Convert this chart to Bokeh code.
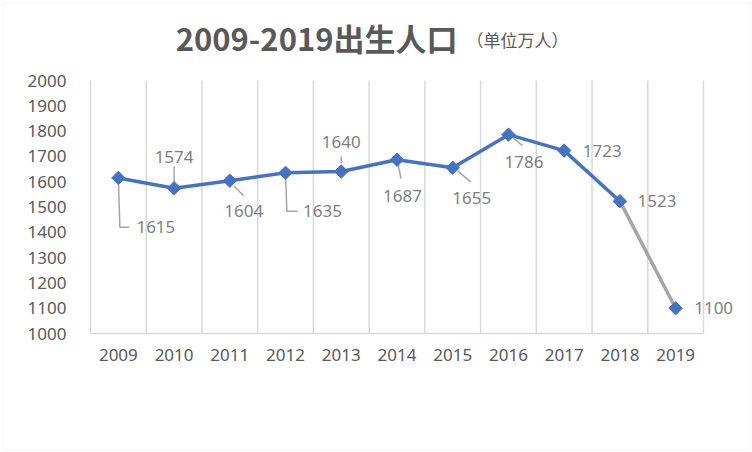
import numpy as np
from bokeh.plotting import figure
from bokeh.models import ColumnDataSource, LabelSet, Label, FixedTicker, Range1d, BoxAnnotation
from bokeh.core.properties import value
from bokeh.embed import file_html
from bokeh.resources import INLINE

# ---------------- data ----------------
years = [2009, 2010, 2011, 2012, 2013, 2014, 2015, 2016, 2017, 2018, 2019]
births = [1615, 1574, 1604, 1635, 1640, 1687, 1655, 1786, 1723, 1523, 1100]
year_labels = [str(y) for y in years]
y_ticks = [1000, 1100, 1200, 1300, 1400, 1500, 1600, 1700, 1800, 1900, 2000]
title_main = "2009-2019出生人口"
title_unit = "（单位万人）"

# ---------------- style / placement (pixels, right & down positive) ----------------
lab_dx = [37.5, 0, 14, 37, 0, 5.5, 19, 15.6, 38, 37, 38]
lab_dy = [49.3, -31, 30.5, 38.4, -29.3, 36, 30.4, 27.6, 0, 0, 0]
leaders = {
    2009: [(0, 0), (1.5, 49.3), (11, 49.3)],
    2010: [(0, -22), (0, -6)],
    2011: [(4, 5), (13.7, 15)],
    2012: [(0, 0), (1.3, 38.4), (12, 38.4)],
    2013: [(0, -15), (0, -8)],
    2014: [(1, 4), (4, 19)],
    2015: [(4.7, 2.7), (18, 14.4)],
    2016: [(4, 2.6), (14, 11)],
}

BLUE = "#4472C4"
GREY_LINE = "#A5A5A5"
GRID = "#D9D9D9"
TXT = "#595959"
LBL = "#7F7F7F"

W, H = 752, 452
PL, PT = 90, 80            # pixel position of the (2008.5, 2000) corner
DATA_W, DATA_H = 613, 253  # pixel size of the 2008.5-2019.5 x 1000-2000 area
X0, X1 = years[0] - 0.5, years[-1] + 0.5
Y0, Y1 = y_ticks[0], y_ticks[-1]
sx = DATA_W / (X1 - X0)
sy = DATA_H / (Y1 - Y0)


def px2x(px):
    return X0 + (px - PL) / sx


def py2y(py):
    return Y1 + (PT - py) / sy


p = figure(width=W, height=H, x_range=Range1d(px2x(0), px2x(W)), y_range=Range1d(py2y(H), py2y(0)),
           output_backend="svg", toolbar_location=None,
           min_border_left=0, min_border_right=0, min_border_top=0, min_border_bottom=0)
p.background_fill_color = "white"
p.border_fill_color = "white"
p.outline_line_color = None

# page frame (thin light border around the whole picture)
p.add_layout(BoxAnnotation(left=px2x(2.5), right=px2x(W - 2.5), top=py2y(2.5), bottom=py2y(H - 2.5),
                           fill_color=None, line_color=GRID, line_width=1))

# axes, fixed at the edges of the data area
p.xaxis.fixed_location = Y0
p.xaxis.ticker = FixedTicker(ticks=years)
p.xaxis.bounds = (X0, X1)
p.xaxis.major_label_overrides = {y: s for y, s in zip(years, year_labels)}
p.xaxis.axis_line_color = GRID
p.xaxis.axis_line_width = 1.5
p.xaxis.major_tick_line_color = None
p.xaxis.minor_tick_line_color = None
p.xaxis.major_label_text_font = "Noto Sans"
p.xaxis.major_label_text_font_size = "17px"
p.xaxis.major_label_text_color = TXT
p.xaxis.major_label_standoff = 9

p.yaxis.fixed_location = X0
p.yaxis.ticker = FixedTicker(ticks=y_ticks)
p.yaxis.bounds = (Y0, Y1)
p.yaxis.axis_line_color = None
p.yaxis.major_tick_line_color = None
p.yaxis.minor_tick_line_color = None
p.yaxis.major_label_text_font = "Noto Sans"
p.yaxis.major_label_text_font_size = "17px"
p.yaxis.major_label_text_color = TXT
p.yaxis.major_label_standoff = 18

p.xgrid.grid_line_color = None
p.ygrid.grid_line_color = None

# vertical category separators, from 1000 to 2000
sep = [y - 0.5 for y in years] + [years[-1] + 0.5]
p.segment(x0=sep, y0=[Y0] * len(sep), x1=sep, y1=[Y1] * len(sep),
          line_color=GRID, line_width=1.5)

# leader lines
lx, ly = [], []
for yr, v in zip(years, births):
    if yr in leaders:
        lx.append([yr + dx / sx for dx, dy in leaders[yr]])
        ly.append([v - dy / sy for dx, dy in leaders[yr]])
p.multi_line(lx, ly, line_color=GREY_LINE, line_width=1.5)

# series line
p.line(years[-2:], births[-2:], line_color=GREY_LINE, line_width=3.5)
p.line(years[:-1], births[:-1], line_color=BLUE, line_width=3.5)
p.scatter(years, births, marker="square", angle=np.pi / 4, size=9.5,
          fill_color=BLUE, line_color=BLUE)

# data labels
src = ColumnDataSource(dict(x=years, y=births, t=[str(b) for b in births],
                            dx=lab_dx, dy=[-d for d in lab_dy]))
p.add_layout(LabelSet(x="x", y="y", text="t", source=src, x_offset="dx", y_offset="dy",
                      text_align="center", text_baseline="middle",
                      text_font=value("Noto Sans"), text_font_size="17px", text_color=LBL))

# title
p.add_layout(Label(x=px2x(457), y=py2y(37), text=title_main, text_align="right",
                   text_baseline="middle", text_font="Noto Sans CJK SC",
                   text_font_size="31px", text_font_style="bold", text_color=TXT))
p.add_layout(Label(x=px2x(466), y=py2y(39), text=title_unit, text_align="left",
                   text_baseline="middle", text_font="Noto Sans CJK SC",
                   text_font_size="17px", text_color=TXT))

open("out.html", "w").write(file_html(p, INLINE))
